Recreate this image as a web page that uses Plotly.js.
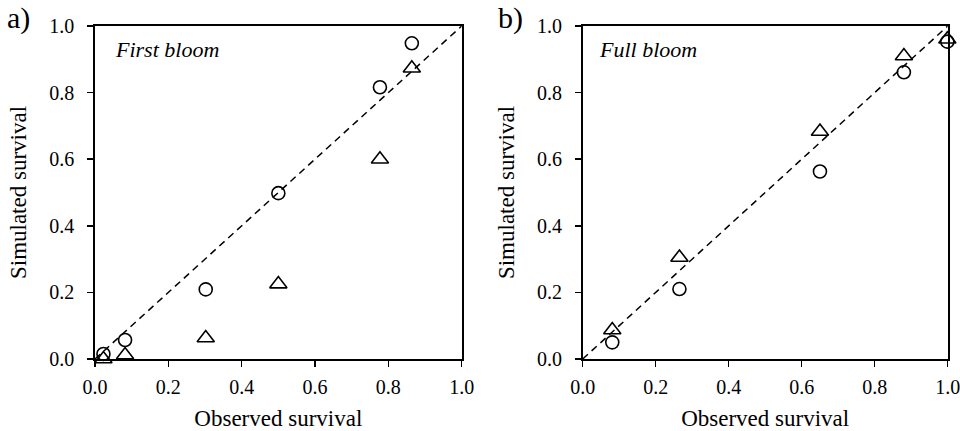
<!DOCTYPE html>
<html>
<head>
<meta charset="utf-8">
<script src="https://cdn.plot.ly/plotly-3.0.1.min.js"></script>
<style>html,body{margin:0;padding:0;background:#fff;}#chart{width:960px;height:431px;}</style>
</head>
<body>
<div id="chart"></div>
<script>
// Panel a) First bloom
const firstObsCircle = [0.023, 0.082, 0.302, 0.500, 0.777, 0.864];
const firstSimCircle = [0.015, 0.057, 0.209, 0.498, 0.816, 0.948];
const firstObsTri = [0.023, 0.082, 0.302, 0.500, 0.777, 0.864];
const firstSimTri = [0.000, 0.012, 0.063, 0.225, 0.600, 0.873];
// Panel b) Full bloom
const fullObsCircle = [0.081, 0.265, 0.650, 0.880, 0.999];
const fullSimCircle = [0.050, 0.210, 0.563, 0.861, 0.953];
const fullObsTri = [0.081, 0.265, 0.650, 0.880, 0.999];
const fullSimTri = [0.087, 0.305, 0.683, 0.910, 0.960];
// 1:1 line
const diag = [0, 1];
const tickVals = [0, 0.2, 0.4, 0.6, 0.8, 1.0];
const tickText = ["0.0", "0.2", "0.4", "0.6", "0.8", "1.0"];

const font = "'Liberation Serif', 'Times New Roman', serif";
const mk = (sym, s) => ({symbol: sym, size: s, color: "#000", line: {color: "#000", width: 1.6}});

const traces = [
  {x: diag, y: diag, xaxis: "x", yaxis: "y", mode: "lines", line: {color: "#000", width: 1.5, dash: "7px,5px"}, hoverinfo: "skip"},
  {x: firstObsCircle, y: firstSimCircle, xaxis: "x", yaxis: "y", mode: "markers", marker: mk("circle-open", 13), cliponaxis: false},
  {x: firstObsTri, y: firstSimTri, xaxis: "x", yaxis: "y", mode: "markers", marker: mk("triangle-up-open", 15), cliponaxis: false},
  {x: diag, y: diag, xaxis: "x2", yaxis: "y2", mode: "lines", line: {color: "#000", width: 1.5, dash: "7px,5px"}, hoverinfo: "skip"},
  {x: fullObsCircle, y: fullSimCircle, xaxis: "x2", yaxis: "y2", mode: "markers", marker: mk("circle-open", 13), cliponaxis: false},
  {x: fullObsTri, y: fullSimTri, xaxis: "x2", yaxis: "y2", mode: "markers", marker: mk("triangle-up-open", 15), cliponaxis: false}
];

const axBase = {
  range: [0, 1], tickvals: tickVals, ticktext: tickText, ticks: "outside", ticklen: 6, tickwidth: 1.5, tickcolor: "#000",
  showline: true, linecolor: "#000", linewidth: 1.8, mirror: true, showgrid: false, zeroline: false,
  ticklabeloverflow: "allow",
  tickfont: {family: font, size: 20, color: "#000"}, fixedrange: true
};
const yDom = [1 - 359/431, 1 - 26/431];
const titleFont = {family: font, size: 23, color: "#000"};

const layout = {
  width: 960, height: 431, showlegend: false,
  margin: {l: 0, r: 0, t: 0, b: 0},
  paper_bgcolor: "#fff", plot_bgcolor: "#fff",
  font: {family: font, color: "#000"},
  xaxis: Object.assign({}, axBase, {domain: [95/960, 461.7/960], anchor: "y", ticklabelstandoff: 3,
    title: {text: "Observed survival", font: titleFont, standoff: 16}}),
  yaxis: Object.assign({}, axBase, {domain: yDom, anchor: "x", ticklabelstandoff: 9,
    title: {text: "Simulated survival", font: titleFont, standoff: 16}}),
  xaxis2: Object.assign({}, axBase, {domain: [582.7/960, 947.7/960], anchor: "y2", ticklabelstandoff: 3,
    title: {text: "Observed survival", font: titleFont, standoff: 16}}),
  yaxis2: Object.assign({}, axBase, {domain: yDom, anchor: "x2", ticklabelstandoff: 9,
    title: {text: "Simulated survival", font: titleFont, standoff: 16}}),
  annotations: [
    {text: "a)", xref: "paper", yref: "paper", x: 5/960, y: 1 - 18/431, xanchor: "left", yanchor: "middle", showarrow: false, font: {family: font, size: 30, color: "#000"}},
    {text: "b)", xref: "paper", yref: "paper", x: 496/960, y: 1 - 18/431, xanchor: "left", yanchor: "middle", showarrow: false, font: {family: font, size: 30, color: "#000"}},
    {text: "<i>First bloom</i>", xref: "x domain", yref: "y domain", x: 0.05, y: 0.93, xanchor: "left", yanchor: "middle", showarrow: false, font: {family: font, size: 22, color: "#000"}},
    {text: "<i>Full bloom</i>", xref: "x2 domain", yref: "y2 domain", x: 0.04, y: 0.93, xanchor: "left", yanchor: "middle", showarrow: false, font: {family: font, size: 22, color: "#000"}}
  ]
};

Plotly.newPlot("chart", traces, layout, {displayModeBar: false, staticPlot: true});
</script>
</body>
</html>
